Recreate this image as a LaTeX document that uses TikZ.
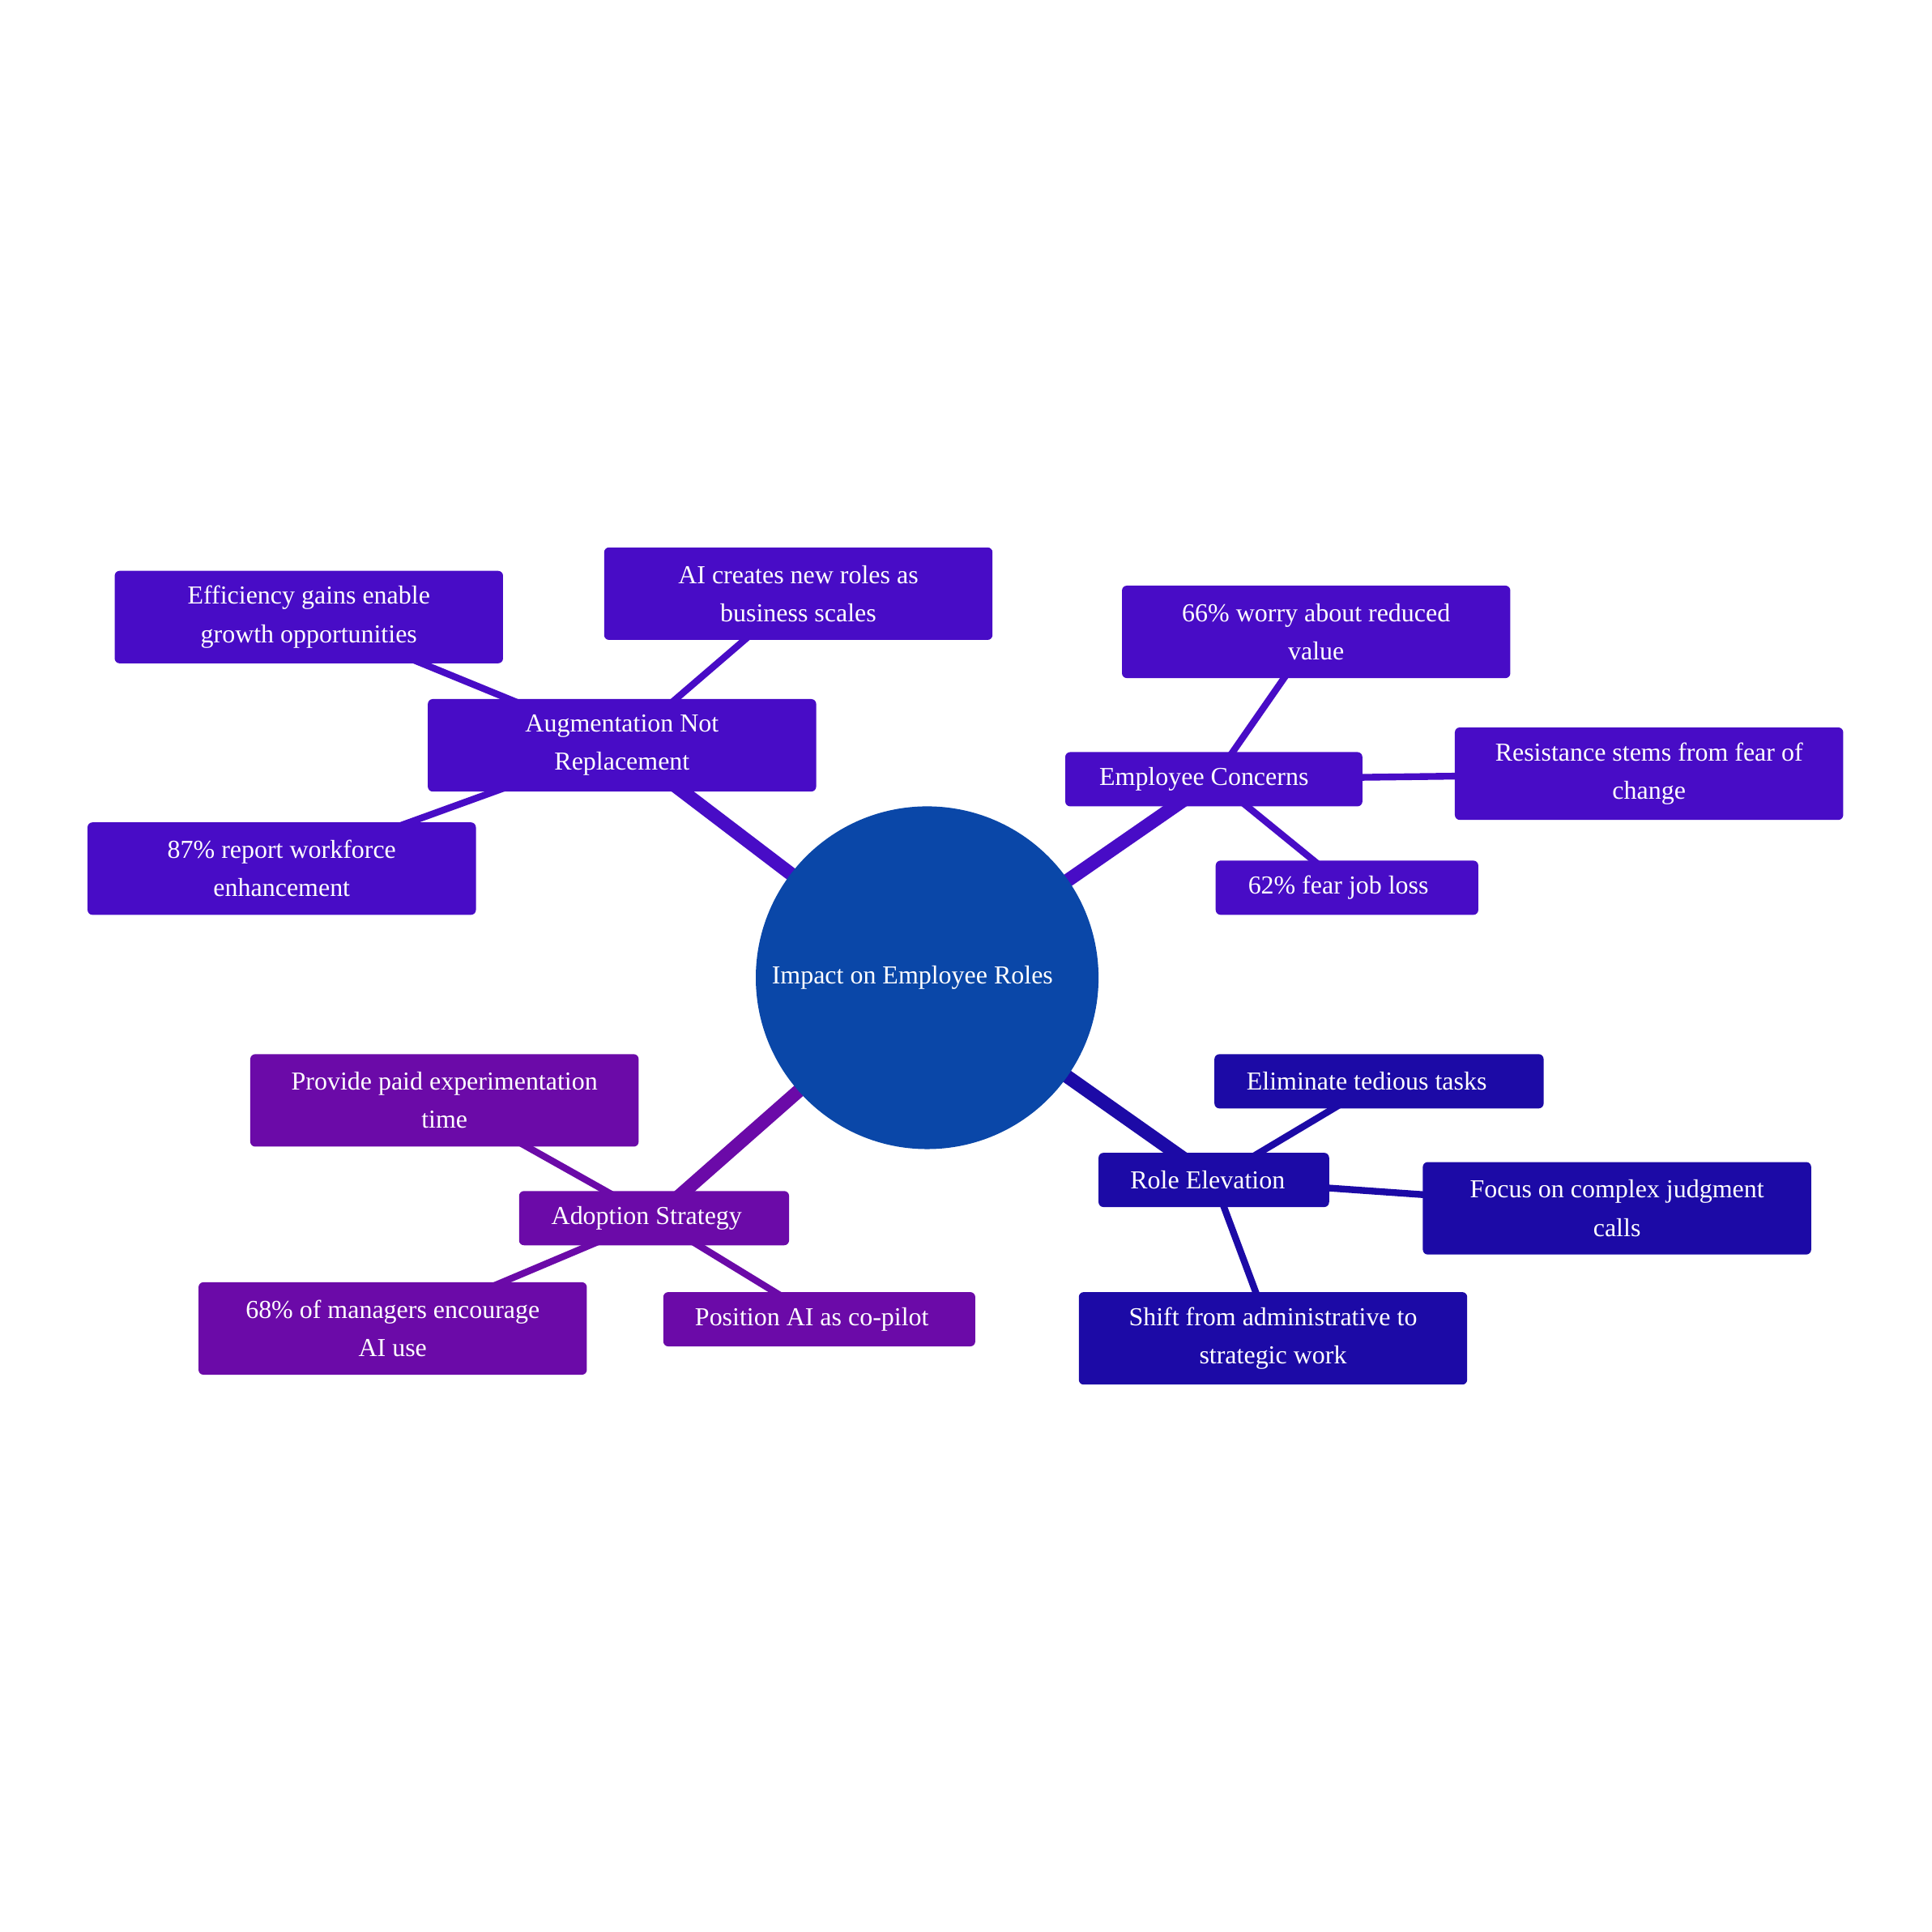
\documentclass[tikz,border=0pt]{standalone}
\usepackage{fontspec}
\setmainfont{Liberation Serif}
\usetikzlibrary{backgrounds}

\definecolor{rootblue}{HTML}{0A47A8}
\definecolor{augviolet}{HTML}{480CC6}
\definecolor{elevblue}{HTML}{1C0AA6}
\definecolor{adoptpurple}{HTML}{6B0AA8}

\tikzset{
  box/.style={rectangle, rounded corners=4pt, inner sep=0pt, text=white, align=center,
    font=\fontsize{21}{31}\selectfont},
  twoline/.style={box, minimum width=315pt, minimum height=75pt},
  oneline/.style={box, minimum height=44pt},
  trunk/.style={line width=11pt},
  twig/.style={line width=5.5pt}
}

\begin{document}
\begin{tikzpicture}[x=1pt, y=-1pt]
\useasboundingbox (0,0) rectangle (1567,1567);

\node[circle, fill=rootblue, minimum size=278pt, inner sep=0pt, text=white,
  font=\fontsize{21}{31}\selectfont] (root) at (752,793) {Impact on Employee Roles\hspace*{24pt}};

% augmentation
\node[twoline, fill=augviolet] (aug) at (504.5,604.5) {Augmentation Not\\Replacement};
\node[twoline, fill=augviolet] (eff) at (250.5,500.5) {Efficiency gains enable\\growth opportunities};
\node[twoline, fill=augviolet] (newroles) at (647.5,481.5) {AI creates new roles as\\business scales};
\node[twoline, fill=augviolet] (enh) at (228.5,704.5) {87\% report workforce\\enhancement};

% concerns
\node[oneline, fill=augviolet, minimum width=241pt] (concerns) at (984.5,632) {Employee Concerns\hspace*{16pt}};
\node[twoline, fill=augviolet] (worry) at (1067.5,512.5) {66\% worry about reduced\\value};
\node[twoline, fill=augviolet] (resist) at (1337.5,627.5) {Resistance stems from fear of\\change};
\node[oneline, fill=augviolet, minimum width=213pt] (jobloss) at (1092.5,720) {62\% fear job loss\hspace*{14pt}};

% elevation
\node[oneline, fill=elevblue, minimum width=187pt] (elev) at (984.5,957) {Role Elevation\hspace*{10pt}};
\node[oneline, fill=elevblue, minimum width=267pt] (tedious) at (1118.5,877) {Eliminate tedious tasks\hspace*{20pt}};
\node[twoline, fill=elevblue] (judgment) at (1311.5,980) {Focus on complex judgment\\calls};
\node[twoline, fill=elevblue] (shift) at (1032.5,1085.5) {Shift from administrative to\\strategic work};

% adoption
\node[oneline, fill=adoptpurple, minimum width=219pt] (adopt) at (530.5,988) {Adoption Strategy\hspace*{12pt}};
\node[twoline, fill=adoptpurple] (paid) at (360.5,892.5) {Provide paid experimentation\\time};
\node[twoline, fill=adoptpurple] (managers) at (318.5,1077.5) {68\% of managers encourage\\AI use};
\node[oneline, fill=adoptpurple, minimum width=253pt] (copilot) at (664.5,1070) {Position AI as co-pilot\hspace*{12pt}};

\begin{scope}[on background layer]
\foreach \b/\c in {aug/augviolet, concerns/augviolet, elev/elevblue, adopt/adoptpurple}
{
    \draw[trunk, \c] (root.center) -- (\b.center);
}
\foreach \a/\b/\c in {aug/eff/augviolet, aug/newroles/augviolet, aug/enh/augviolet,
  concerns/worry/augviolet, concerns/resist/augviolet, concerns/jobloss/augviolet,
  elev/tedious/elevblue, elev/judgment/elevblue, elev/shift/elevblue,
  adopt/paid/adoptpurple, adopt/managers/adoptpurple, adopt/copilot/adoptpurple}
{
    \draw[twig, \c] (\a.center) -- (\b.center);
}
\end{scope}

\end{tikzpicture}
\end{document}
